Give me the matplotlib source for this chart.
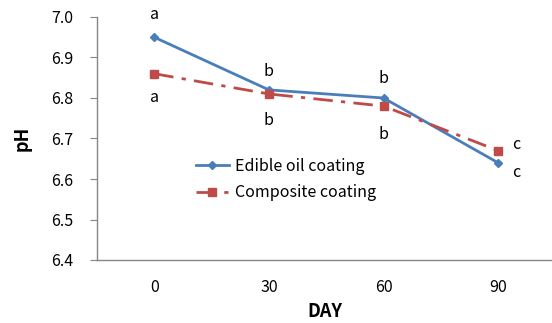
import matplotlib
matplotlib.use("Agg")
import matplotlib.pyplot as plt

plt.rcParams['font.family'] = ['Noto Sans CJK KR', 'DejaVu Sans']

days = ["0", "30", "60", "90"]
edible = [6.95, 6.82, 6.80, 6.64]
composite = [6.86, 6.81, 6.78, 6.67]
edible_letters = ["a", "b", "b", "c"]
composite_letters = ["a", "b", "b", "c"]

fs = 11.5
fig = plt.figure(figsize=(5.52, 3.23), dpi=100)
ax = fig.add_axes([97/552, 1-260/323, 1-97/552, (260-17)/323])

x = list(range(len(days)))
ax.plot(x, edible, color='#4A7EBB', lw=2, marker='D', ms=4, label='Edible oil coating')
ax.plot(x, composite, color='#BE4B48', lw=2, ls=(0, (7, 3, 1.5, 3)), marker='s', ms=6, label='Composite coating')

# letters
ax.text(0, 6.985, edible_letters[0], ha='center', va='bottom', fontsize=fs)
ax.text(0, 6.80, composite_letters[0], ha='center', va='center', fontsize=fs)
ax.text(1, 6.845, edible_letters[1], ha='center', va='bottom', fontsize=fs)
ax.text(1, 6.745, composite_letters[1], ha='center', va='center', fontsize=fs)
ax.text(2, 6.826, edible_letters[2], ha='center', va='bottom', fontsize=fs)
ax.text(2, 6.71, composite_letters[2], ha='center', va='center', fontsize=fs)
ax.text(3.16, 6.685, composite_letters[3], ha='center', va='center', fontsize=fs)
ax.text(3.16, 6.617, edible_letters[3], ha='center', va='center', fontsize=fs)

ax.set_ylim(6.4, 7.0)
ax.set_yticks([6.4, 6.5, 6.6, 6.7, 6.8, 6.9, 7.0])
ax.set_yticklabels([f"{v:.1f}" for v in [6.4, 6.5, 6.6, 6.7, 6.8, 6.9, 7.0]])
ax.set_xlim(-0.5, 3.47)
ax.set_xticks(x)
ax.set_xticklabels(days)

for s in ['top', 'right']:
    ax.spines[s].set_visible(False)
for s in ['left', 'bottom']:
    ax.spines[s].set_color('#868686')
    ax.spines[s].set_linewidth(1)
ax.tick_params(axis='y', direction='out', length=5, color='#868686', labelsize=fs, pad=12)
ax.tick_params(axis='x', length=0, labelsize=fs, pad=14)

ax.set_ylabel('pH', fontsize=13, fontweight='bold', labelpad=14)
ax.set_xlabel('DAY', fontsize=13, fontweight='bold', labelpad=4)

ax.legend(loc='upper left', bbox_to_anchor=(0.185, 0.48), frameon=False, fontsize=fs,
          handlelength=2.1, handletextpad=0.4, labelspacing=0.6)

fig.savefig('out.png', dpi=100)
